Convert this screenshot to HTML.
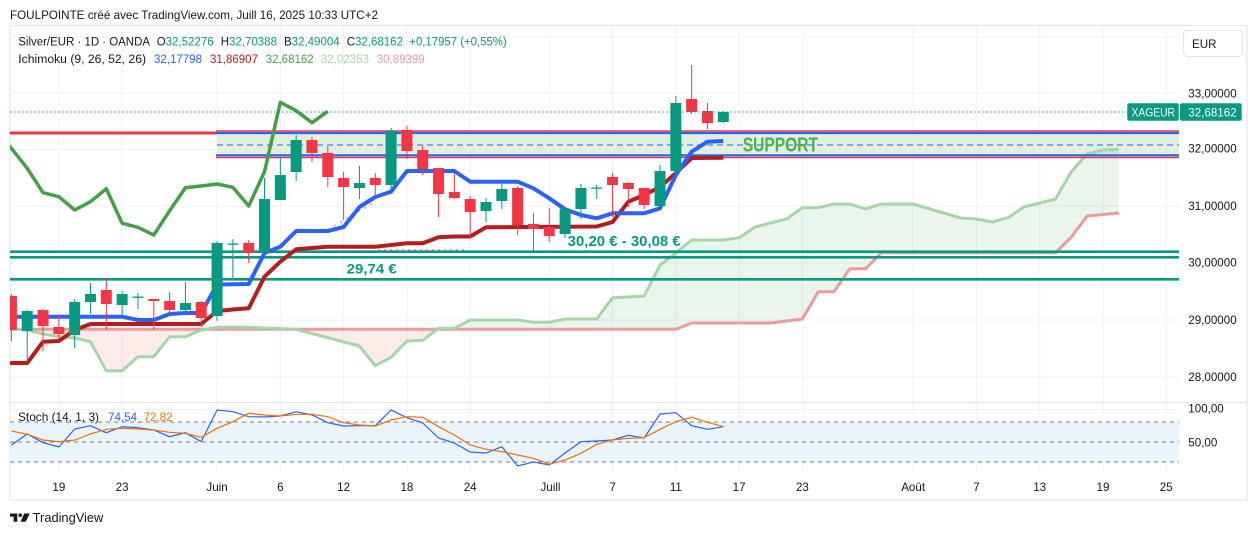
<!DOCTYPE html>
<html><head><meta charset="utf-8"><style>
html,body{margin:0;padding:0;background:#fff;}
svg{display:block;font-family:"Liberation Sans",Arial,sans-serif;}
</style></head><body>
<svg width="1257" height="536" viewBox="0 0 1257 536" xmlns="http://www.w3.org/2000/svg">
<defs>
<clipPath id="plot"><rect x="10" y="27" width="1169" height="375"/></clipPath>
<clipPath id="stp"><rect x="10" y="403" width="1169" height="69"/></clipPath>
<clipPath id="cg"><polygon points="10,329.3 675.84,329.3 691.66,323 770.76,323 802.4,319 818.22,291.7 834.04,291.7 849.86,268.7 865.68,268.7 881.5,252.7 1055.52,252.7 1071.34,237 1087.16,216 1118.8,213 1200,213 1200,0 0,0 0,329.3"/></clipPath>
<clipPath id="cr"><polygon points="10,329.3 675.84,329.3 691.66,323 770.76,323 802.4,319 818.22,291.7 834.04,291.7 849.86,268.7 865.68,268.7 881.5,252.7 1055.52,252.7 1071.34,237 1087.16,216 1118.8,213 1200,213 1200,600 0,600 0,329.3"/></clipPath>
</defs>
<rect width="1257" height="536" fill="#fff"/>

<!-- title -->
<text x="10" y="19" font-size="11.6" fill="#131722" textLength="368" lengthAdjust="spacingAndGlyphs">FOULPOINTE créé avec TradingView.com, Juill 16, 2025 10:33 UTC+2</text>

<!-- frame -->
<rect x="10" y="25.5" width="1237" height="474.5" fill="none" stroke="#e9ebef" stroke-width="1.5"/>

<!-- grid -->
<g stroke="#eef0f4" stroke-width="1">
<line x1="58.86" y1="27" x2="58.86" y2="472"/>
<line x1="122.14" y1="27" x2="122.14" y2="472"/>
<line x1="217.06" y1="27" x2="217.06" y2="472"/>
<line x1="280.34" y1="27" x2="280.34" y2="472"/>
<line x1="343.62" y1="27" x2="343.62" y2="472"/>
<line x1="406.9" y1="27" x2="406.9" y2="472"/>
<line x1="470.18" y1="27" x2="470.18" y2="472"/>
<line x1="549.28" y1="27" x2="549.28" y2="472"/>
<line x1="612.56" y1="27" x2="612.56" y2="472"/>
<line x1="675.84" y1="27" x2="675.84" y2="472"/>
<line x1="739.12" y1="27" x2="739.12" y2="472"/>
<line x1="802.4" y1="27" x2="802.4" y2="472"/>
<line x1="913.14" y1="27" x2="913.14" y2="472"/>
<line x1="976.42" y1="27" x2="976.42" y2="472"/>
<line x1="1039.7" y1="27" x2="1039.7" y2="472"/>
<line x1="1102.98" y1="27" x2="1102.98" y2="472"/>
<line x1="1166.26" y1="27" x2="1166.26" y2="472"/>
<line x1="10" y1="37" x2="1179" y2="37"/>
<line x1="10" y1="93" x2="1179" y2="93"/>
<line x1="10" y1="149.5" x2="1179" y2="149.5"/>
<line x1="10" y1="206" x2="1179" y2="206"/>
<line x1="10" y1="263" x2="1179" y2="263"/>
<line x1="10" y1="320" x2="1179" y2="320"/>
<line x1="10" y1="377" x2="1179" y2="377"/>
<line x1="10" y1="409.5" x2="1179" y2="409.5"/>
</g>
<line x1="10" y1="402.5" x2="1247" y2="402.5" stroke="#e0e3eb" stroke-width="1"/>

<!-- legend -->
<g font-size="11.5" fill="#131722">
<text x="18.3" y="45.7" textLength="131.7" lengthAdjust="spacingAndGlyphs">Silver/EUR · 1D · OANDA</text>
<text x="156.7" y="45.7">O<tspan fill="#089981">32,52276</tspan></text>
<text x="220.7" y="45.7">H<tspan fill="#089981">32,70388</tspan></text>
<text x="284" y="45.7">B<tspan fill="#089981">32,49004</tspan></text>
<text x="346.7" y="45.7">C<tspan fill="#089981">32,68162</tspan></text>
<text x="409.3" y="45.7" fill="#089981" textLength="97.4" lengthAdjust="spacingAndGlyphs">+0,17957 (+0,55%)</text>
<text x="18.3" y="63" textLength="127.7" lengthAdjust="spacingAndGlyphs">Ichimoku (9, 26, 52, 26)</text>
<text x="154" y="63" fill="#2962ff">32,17798</text>
<text x="210" y="63" fill="#b71c1c">31,86907</text>
<text x="265.7" y="63" fill="#43a047">32,68162</text>
<text x="321" y="63" fill="#a5d6a7">32,02353</text>
<text x="376.7" y="63" fill="#ef9a9a">30,89399</text>
</g>

<g clip-path="url(#plot)">
<!-- support zone -->
<rect x="217" y="133.5" width="962" height="21.5" fill="#dff0e0"/>

<!-- cloud fills -->
<polygon clip-path="url(#cg)" fill="#43a047" fill-opacity="0.11" points="10,329 11.4,329 27.22,330 43.04,334 58.86,336.7 74.68,338 90.5,341.7 106.32,370.7 122.14,370.7 137.96,356.7 153.78,356.7 169.6,336.7 185.42,336.7 201.24,330 217.06,327.3 248.7,327.3 264.52,328 296.16,329.3 359.44,346 375.26,365.7 391.08,357.3 406.9,341 422.72,340.3 438.54,328.3 454.36,328.3 470.18,320 517.64,320 533.46,322.3 549.28,322.3 565.1,319 596.74,319 612.56,297.7 644.2,296 660.02,265 675.84,253 691.66,240 723.3,240 739.12,237.7 754.94,227 786.58,219 802.4,207.7 818.22,207.7 834.04,204 849.86,204 865.68,209 881.5,204 913.14,204 960.6,218 976.42,219 992.24,222 1008.06,217.7 1023.88,207 1055.52,199 1071.34,171.7 1087.16,154 1102.98,150 1118.8,149.3 1118.8,213 1087.16,216 1071.34,237 1055.52,252.7 881.5,252.7 865.68,268.7 849.86,268.7 834.04,291.7 818.22,291.7 802.4,319 770.76,323 691.66,323 675.84,329.3 10,329.3"/>
<polygon clip-path="url(#cr)" fill="#f44336" fill-opacity="0.1" points="10,329 11.4,329 27.22,330 43.04,334 58.86,336.7 74.68,338 90.5,341.7 106.32,370.7 122.14,370.7 137.96,356.7 153.78,356.7 169.6,336.7 185.42,336.7 201.24,330 217.06,327.3 248.7,327.3 264.52,328 296.16,329.3 359.44,346 375.26,365.7 391.08,357.3 406.9,341 422.72,340.3 438.54,328.3 454.36,328.3 470.18,320 517.64,320 533.46,322.3 549.28,322.3 565.1,319 596.74,319 612.56,297.7 644.2,296 660.02,265 675.84,253 691.66,240 723.3,240 739.12,237.7 754.94,227 786.58,219 802.4,207.7 818.22,207.7 834.04,204 849.86,204 865.68,209 881.5,204 913.14,204 960.6,218 976.42,219 992.24,222 1008.06,217.7 1023.88,207 1055.52,199 1071.34,171.7 1087.16,154 1102.98,150 1118.8,149.3 1118.8,213 1087.16,216 1071.34,237 1055.52,252.7 881.5,252.7 865.68,268.7 849.86,268.7 834.04,291.7 818.22,291.7 802.4,319 770.76,323 691.66,323 675.84,329.3 10,329.3"/>

<!-- senkou lines -->
<polyline fill="none" stroke="#ef9a9a" stroke-width="3" stroke-linejoin="round" points="10,329.3 675.84,329.3 691.66,323 770.76,323 802.4,319 818.22,291.7 834.04,291.7 849.86,268.7 865.68,268.7 881.5,252.7 1055.52,252.7 1071.34,237 1087.16,216 1118.8,213"/>
<polyline fill="none" stroke="#a5d6a7" stroke-width="3" stroke-linejoin="round" points="10,329 11.4,329 27.22,330 43.04,334 58.86,336.7 74.68,338 90.5,341.7 106.32,370.7 122.14,370.7 137.96,356.7 153.78,356.7 169.6,336.7 185.42,336.7 201.24,330 217.06,327.3 248.7,327.3 264.52,328 296.16,329.3 359.44,346 375.26,365.7 391.08,357.3 406.9,341 422.72,340.3 438.54,328.3 454.36,328.3 470.18,320 517.64,320 533.46,322.3 549.28,322.3 565.1,319 596.74,319 612.56,297.7 644.2,296 660.02,265 675.84,253 691.66,240 723.3,240 739.12,237.7 754.94,227 786.58,219 802.4,207.7 818.22,207.7 834.04,204 849.86,204 865.68,209 881.5,204 913.14,204 960.6,218 976.42,219 992.24,222 1008.06,217.7 1023.88,207 1055.52,199 1071.34,171.7 1087.16,154 1102.98,150 1118.8,149.3"/>

<!-- drawings -->
<line x1="10" y1="133" x2="217" y2="133" stroke="#f23645" stroke-width="3"/>
<line x1="216" y1="131" x2="1179" y2="131" stroke="#f23645" stroke-width="1.6"/>
<line x1="216" y1="133" x2="1179" y2="133" stroke="#2962ff" stroke-width="2.2"/>
<line x1="216" y1="155.3" x2="1179" y2="155.3" stroke="#2962ff" stroke-width="2.2"/>
<line x1="216" y1="157.5" x2="1179" y2="157.5" stroke="#f23645" stroke-width="1.6"/>
<line x1="217" y1="145" x2="1179" y2="145" stroke="#2962ff" stroke-width="1" stroke-dasharray="6 4"/>
<line x1="10" y1="251.7" x2="1179" y2="251.7" stroke="#089981" stroke-width="2.6"/>
<line x1="10" y1="257.3" x2="1179" y2="257.3" stroke="#089981" stroke-width="2.6"/>
<line x1="10" y1="279.3" x2="1179" y2="279.3" stroke="#089981" stroke-width="2.6"/>
<line x1="378" y1="250" x2="468" y2="250" stroke="#f23645" stroke-width="1.5" stroke-dasharray="2 4" opacity="0.6"/>
<line x1="334" y1="226" x2="376" y2="201" stroke="#f23645" stroke-width="1.5" stroke-dasharray="2 5" opacity="0.6"/>

<!-- tenkan / kijun / chikou -->
<path fill="none" stroke="#b71c1c" stroke-width="4" stroke-linejoin="round" d="M10,363 L27.22,363 L43.04,341.7 L58.86,341 L74.68,330 L90.5,324 L201.24,324 L217.06,311 L232.88,309.5 L248.7,308.3 L264.52,276.7 L280.34,261.7 L296.16,249.3 L311.98,248 L327.8,246.7 L375.26,246.7 L391.08,245 L406.9,243.3 L422.72,243.3 L438.54,237.3 L454.36,236.5 L470.18,236.5 L486,227.3 L596.74,226.5 L612.56,222 L628.38,201.7 L644.2,195 L660.02,187 L675.84,173 L691.66,158 L723.3,157.7"/>
<path fill="none" stroke="#2962ff" stroke-width="4" stroke-linejoin="round" d="M10,316.7 L122.14,316.7 L137.96,320 L153.78,320 L169.6,314 L185.42,313 L201.24,313 L217.06,284.5 L248.7,284 L264.52,253 L280.34,246.7 L296.16,231 L327.8,231 L343.62,227 L359.44,207 L375.26,197 L391.08,191.7 L406.9,171 L454.36,171 L470.18,181.7 L517.64,181.7 L533.46,188.3 L549.28,198.3 L565.1,209.3 L580.92,215 L596.74,218.3 L612.56,213.3 L644.2,213.3 L660.02,208.3 L675.84,175 L691.66,151.7 L707.48,141.7 L723.3,141"/>
<path fill="none" stroke="#43a047" stroke-width="3.5" stroke-linejoin="round" d="M-4.4,131 L11.4,148.3 L27.22,168.3 L43.04,192.7 L58.86,196.7 L74.68,210 L90.5,201.7 L106.32,188.7 L122.14,223.3 L137.96,227.3 L153.78,235 L169.6,210.7 L185.42,187.7 L201.24,186 L217.06,184 L232.88,187.3 L248.7,206 L264.52,171.7 L280.34,102.3 L296.16,110.7 L311.98,122.7 L327.8,111.3"/>

<!-- candles green -->
<g fill="#089981">
<rect x="26.72" y="310" width="1" height="51"/><rect x="21.72" y="311" width="11" height="20"/>
<rect x="74.18" y="299" width="1" height="49"/><rect x="69.18" y="302" width="11" height="33"/>
<rect x="90" y="283" width="1" height="31"/><rect x="85" y="294" width="11" height="8"/>
<rect x="121.64" y="291" width="1" height="26"/><rect x="116.64" y="294" width="11" height="11"/>
<rect x="137.46" y="293" width="1" height="16"/><rect x="132.46" y="296.5" width="11" height="1.3"/>
<rect x="184.92" y="282" width="1" height="31"/><rect x="179.92" y="303" width="11" height="7"/>
<rect x="216.56" y="241" width="1" height="80"/><rect x="211.56" y="243" width="11" height="73"/>
<rect x="232.38" y="239" width="1" height="39"/><rect x="227.38" y="243.5" width="11" height="1.3"/>
<rect x="264.02" y="178" width="1" height="75"/><rect x="259.02" y="199" width="11" height="53"/>
<rect x="279.84" y="157" width="1" height="43"/><rect x="274.84" y="175" width="11" height="25"/>
<rect x="295.66" y="135" width="1" height="46"/><rect x="290.66" y="140" width="11" height="32"/>
<rect x="358.94" y="166" width="1" height="33"/><rect x="353.94" y="183" width="11" height="5"/>
<rect x="390.58" y="128" width="1" height="62"/><rect x="385.58" y="131" width="11" height="54"/>
<rect x="485.5" y="198" width="1" height="24"/><rect x="480.5" y="202" width="11" height="9"/>
<rect x="501.32" y="184" width="1" height="25"/><rect x="496.32" y="189" width="11" height="12"/>
<rect x="564.6" y="208" width="1" height="30"/><rect x="559.6" y="209" width="11" height="25"/>
<rect x="580.42" y="184" width="1" height="35"/><rect x="575.42" y="188" width="11" height="21"/>
<rect x="596.24" y="185" width="1" height="14"/><rect x="591.24" y="187.5" width="11" height="1.3"/>
<rect x="659.52" y="165" width="1" height="41"/><rect x="654.52" y="171" width="11" height="35"/>
<rect x="675.34" y="96" width="1" height="79"/><rect x="670.34" y="103" width="11" height="68"/>
<rect x="722.8" y="111" width="1" height="12"/><rect x="717.8" y="112" width="11" height="10"/>
</g>
<!-- candles red -->
<g fill="#f23645">
<rect x="10.9" y="294" width="1" height="47"/><rect x="5.9" y="296" width="11" height="34"/>
<rect x="42.54" y="309" width="1" height="42"/><rect x="37.54" y="310" width="11" height="16"/>
<rect x="58.36" y="315" width="1" height="24"/><rect x="53.36" y="327" width="11" height="7"/>
<rect x="105.82" y="278" width="1" height="52"/><rect x="100.82" y="290" width="11" height="14"/>
<rect x="153.28" y="299" width="1" height="31"/><rect x="148.28" y="299" width="11" height="2"/>
<rect x="169.1" y="292" width="1" height="20"/><rect x="164.1" y="301" width="11" height="9"/>
<rect x="200.74" y="301" width="1" height="26"/><rect x="195.74" y="302" width="11" height="16"/>
<rect x="248.2" y="240" width="1" height="23"/><rect x="243.2" y="243" width="11" height="10"/>
<rect x="311.48" y="137" width="1" height="25"/><rect x="306.48" y="140" width="11" height="13"/>
<rect x="327.3" y="146" width="1" height="41"/><rect x="322.3" y="153" width="11" height="24"/>
<rect x="343.12" y="172" width="1" height="48"/><rect x="338.12" y="178" width="11" height="9"/>
<rect x="374.76" y="173" width="1" height="24"/><rect x="369.76" y="178" width="11" height="7"/>
<rect x="406.4" y="126" width="1" height="33"/><rect x="401.4" y="130" width="11" height="21"/>
<rect x="422.22" y="145" width="1" height="30"/><rect x="417.22" y="150" width="11" height="19"/>
<rect x="438.04" y="168" width="1" height="49"/><rect x="433.04" y="168" width="11" height="26"/>
<rect x="453.86" y="173" width="1" height="26"/><rect x="448.86" y="192" width="11" height="6"/>
<rect x="469.68" y="196" width="1" height="42"/><rect x="464.68" y="199" width="11" height="13"/>
<rect x="517.14" y="186" width="1" height="49"/><rect x="512.14" y="188" width="11" height="37"/>
<rect x="532.96" y="213" width="1" height="38"/><rect x="527.96" y="224" width="11" height="5"/>
<rect x="548.78" y="208" width="1" height="34"/><rect x="543.78" y="227" width="11" height="9"/>
<rect x="612.06" y="173" width="1" height="44"/><rect x="607.06" y="177" width="11" height="8"/>
<rect x="627.88" y="182" width="1" height="25"/><rect x="622.88" y="183" width="11" height="6"/>
<rect x="643.7" y="188" width="1" height="21"/><rect x="638.7" y="188" width="11" height="17"/>
<rect x="691.16" y="65" width="1" height="49"/><rect x="686.16" y="99" width="11" height="13"/>
<rect x="706.98" y="103" width="1" height="26"/><rect x="701.98" y="111" width="11" height="12"/>
</g>

<!-- price line -->
<line x1="10" y1="112" x2="1127" y2="112" stroke="#089981" stroke-width="1" stroke-dasharray="1.5 2.5"/>

<!-- drawing labels -->
<text x="742.7" y="151.7" font-size="20" font-weight="bold" fill="#4caf50" textLength="75.3" lengthAdjust="spacingAndGlyphs">SUPPORT</text>
<text x="346.7" y="273.5" font-size="14" font-weight="bold" fill="#089981" textLength="50" lengthAdjust="spacingAndGlyphs">29,74 €</text>
<text x="567.7" y="246" font-size="14.5" font-weight="bold" fill="#089981" textLength="113" lengthAdjust="spacingAndGlyphs">30,20 € - 30,08 €</text>
</g>

<!-- stoch pane -->
<g clip-path="url(#stp)">
<rect x="10" y="422" width="1169" height="40" fill="#e9f4fd"/>
<g stroke="#787b86" stroke-width="1" stroke-dasharray="4 4">
<line x1="10" y1="422" x2="1179" y2="422"/>
<line x1="10" y1="442" x2="1179" y2="442"/>
<line x1="10" y1="462" x2="1179" y2="462"/>
</g>
<path fill="none" stroke="#2962ff" stroke-width="1.2" d="M11.4,445 L27.22,434 L43.04,442.7 L58.86,447 L74.68,429 L90.5,425.7 L106.32,432.7 L122.14,426.7 L137.96,427.7 L153.78,430 L169.6,436.7 L185.42,432.7 L201.24,441.7 L217.06,410 L232.88,411.7 L248.7,416.7 L264.52,417 L280.34,416 L296.16,411.7 L311.98,415 L327.8,422.7 L343.62,426 L359.44,425.7 L375.26,425.7 L391.08,410 L406.9,417.7 L422.72,423 L438.54,438 L454.36,443 L470.18,452 L486,453 L501.82,446.7 L517.64,466 L533.46,462 L549.28,465 L565.1,453 L580.92,441.7 L596.74,441 L612.56,440 L628.38,435.3 L644.2,438 L660.02,414 L675.84,412.7 L691.66,425.7 L707.48,429.3 L723.3,426.7"/>
<path fill="none" stroke="#ff6d00" stroke-width="1.2" d="M11.4,431 L27.22,434.3 L43.04,440 L58.86,441.7 L74.68,440 L90.5,434 L106.32,429.3 L122.14,428.3 L137.96,429 L153.78,430 L169.6,432.3 L185.42,433.3 L201.24,437.3 L217.06,428.3 L232.88,421.7 L248.7,413.3 L264.52,415 L280.34,416 L296.16,414.3 L311.98,414.3 L327.8,416.7 L343.62,422.7 L359.44,425 L375.26,426 L391.08,420 L406.9,416.7 L422.72,417.3 L438.54,426.7 L454.36,435 L470.18,445 L486,449.3 L501.82,451.7 L517.64,455 L533.46,458.3 L549.28,464.3 L565.1,460 L580.92,453.3 L596.74,444.3 L612.56,440 L628.38,438.3 L644.2,437.7 L660.02,429.3 L675.84,421.7 L691.66,417.3 L707.48,422.3 L723.3,426.7"/>
</g>
<g font-size="11.6">
<text x="18" y="421" fill="#131722" textLength="81" lengthAdjust="spacingAndGlyphs">Stoch (14, 1, 3)</text>
<text x="108" y="421" fill="#2962ff">74,54</text>
<text x="143.5" y="421" fill="#ff6d00">72,82</text>
</g>

<!-- price axis -->
<rect x="1183.5" y="30.5" width="59" height="26" rx="4" fill="#fff" stroke="#e0e3eb"/>
<text x="1192" y="48" font-size="11.6" fill="#131722">EUR</text>
<g font-size="11.6" fill="#131722">
<text x="1188.3" y="97.5">33,00000</text>
<text x="1188.3" y="152.5">32,00000</text>
<text x="1188.3" y="209.9">31,00000</text>
<text x="1188.3" y="266.5">30,00000</text>
<text x="1188.3" y="324.2">29,00000</text>
<text x="1188.3" y="381">28,00000</text>
<text x="1188.3" y="412.3">100,00</text>
<text x="1188.3" y="446.3">50,00</text>
</g>
<rect x="1127.3" y="103.3" width="51.4" height="17.4" rx="2" fill="#089981"/>
<rect x="1180" y="103.3" width="61.7" height="17.4" rx="2" fill="#089981"/>
<text x="1131.5" y="116.4" font-size="11.6" fill="#fff" textLength="43.5" lengthAdjust="spacingAndGlyphs">XAGEUR</text>
<text x="1188.3" y="116.4" font-size="11.6" fill="#fff">32,68162</text>

<!-- time axis -->
<g font-size="11.6" fill="#131722" text-anchor="middle">
<text x="58.86" y="491">19</text>
<text x="122.14" y="491">23</text>
<text x="217.06" y="491">Juin</text>
<text x="280.34" y="491">6</text>
<text x="343.62" y="491">12</text>
<text x="406.9" y="491">18</text>
<text x="470.18" y="491">24</text>
<text x="550.5" y="491">Juill</text>
<text x="612.56" y="491">7</text>
<text x="675.84" y="491">11</text>
<text x="739.12" y="491">17</text>
<text x="802.4" y="491">23</text>
<text x="913.14" y="491">Août</text>
<text x="976.42" y="491">7</text>
<text x="1039.7" y="491">13</text>
<text x="1102.98" y="491">19</text>
<text x="1166.26" y="491">25</text>
</g>

<!-- logo -->
<path d="M10 513.5 H17.3 V521.7 H13.6 V516.6 H10 Z" fill="#131722"/>
<circle cx="20.2" cy="515.2" r="1.8" fill="#131722"/>
<polygon points="24.2,513.5 29.8,513.5 25.6,521.7 20.6,521.7" fill="#131722"/>
<text x="32.7" y="522" font-size="12.7" fill="#131722" textLength="70.6" lengthAdjust="spacingAndGlyphs">TradingView</text>
</svg>
</body></html>
